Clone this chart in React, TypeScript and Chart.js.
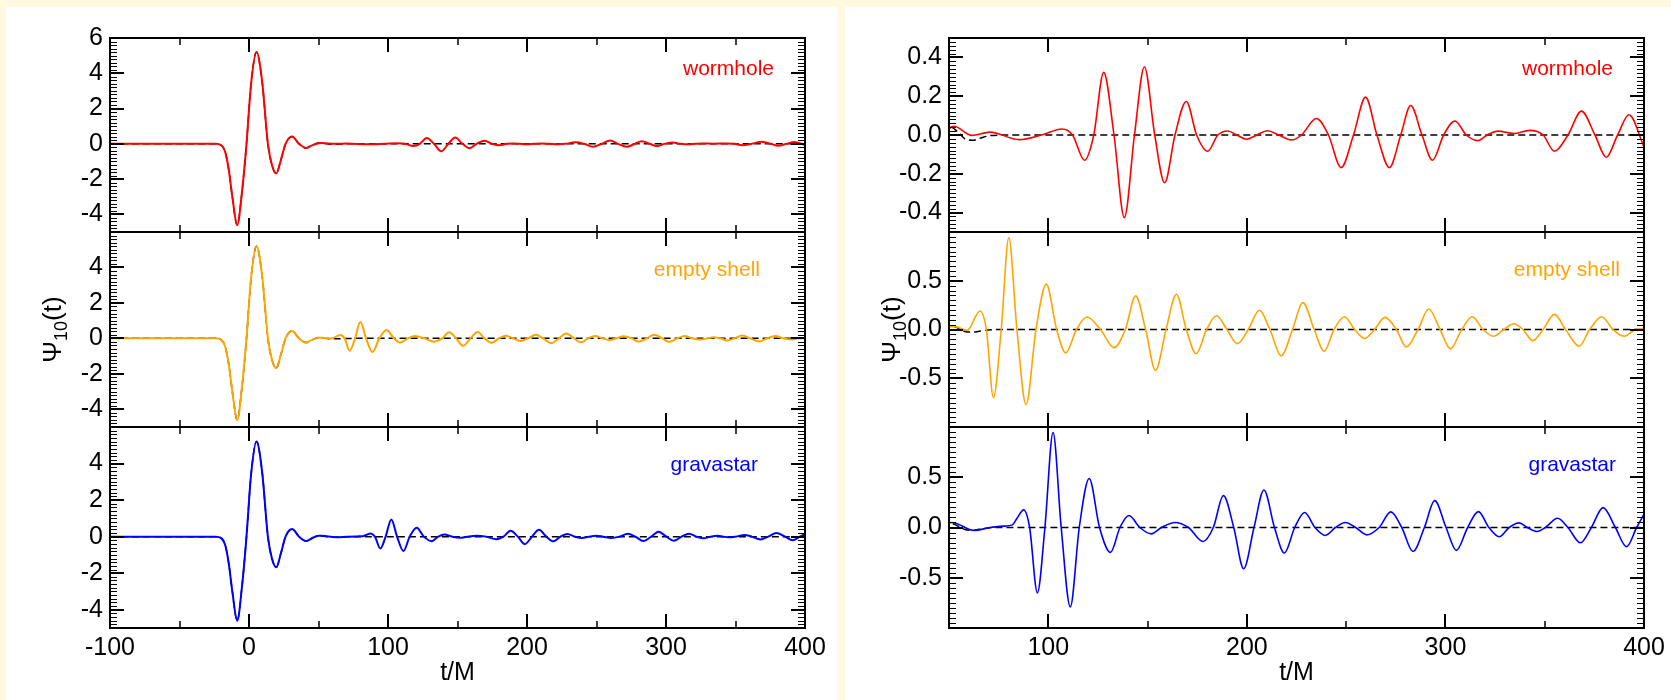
import React, { useEffect, useRef } from 'react';
import { Chart, registerables } from 'chart.js';

Chart.register(...registerables);

// ---------------- DATA (t/M, Psi_10) ----------------
// common prompt (ringdown) pulse, identical for all models and the black hole
const pulse: [number, number][] = [
  [-100, 0], [-40, 0], [-24, 0], [-20, -0.08], [-17, -0.5], [-14.5, -1.5], [-12, -3.0],
  [-8.5, -4.6], [-5, -2.7], [-1.8, 0], [1.5, 3.4], [5.4, 5.2], [9.5, 3.5], [13.6, 0],
  [16.5, -1.2], [19.6, -1.68], [23, -0.9], [26.3, 0], [31, 0.42], [36, 0], [41, -0.24], [45, -0.1],
];

// black hole tail (dashed reference)
const blackHoleTail: [number, number][] = [
  [50, 0.045], [55, 0.01], [58, -0.02], [62, -0.027], [66, -0.015], [71, -0.003], [80, 0], [400, 0],
];

const wormholeEcho: [number, number][] = [
  [50, 0.03], [52.5, 0.045], [61.5, -0.002], [70.6, 0.015], [85.4, -0.024], [96.7, 0], [107, 0.031],
  [112.2, 0], [118.3, -0.13], [122.9, 0], [127.9, 0.323], [133.1, 0], [138.3, -0.426], [143.4, 0],
  [148.4, 0.352], [153.6, 0], [158.6, -0.246], [163.8, 0], [169.5, 0.173], [174.7, 0], [180.2, -0.084],
  [185.4, 0], [190.4, 0.021], [195, 0], [199.8, -0.022], [205, 0], [210.4, 0.022], [216, 0],
  [222.5, -0.026], [227.5, 0], [235, 0.085], [241.1, 0], [247.5, -0.168], [253.7, 0], [259.8, 0.195],
  [265.5, 0], [271.8, -0.168], [277.5, 0], [282.5, 0.152], [288.2, 0], [293.5, -0.13], [299.1, 0],
  [304.8, 0.072], [310.5, 0], [316.2, -0.029], [321, 0], [326.4, 0.02], [334.4, 0.008], [342.4, 0.024],
  [349.2, 0], [354.9, -0.084], [361.7, 0], [368.5, 0.123], [375.3, 0], [381, -0.115], [386.7, 0],
  [392.4, 0.104], [400, -0.06],
];

const emptyShellEcho: [number, number][] = [
  [50, 0.03], [53, 0.03], [59.2, -0.007], [65.6, 0.19], [68.8, 0], [72.4, -0.7], [76.3, 0], [80.1, 0.94],
  [84.2, 0], [88.8, -0.77], [93.8, 0], [99, 0.465], [104.2, 0], [108.8, -0.24], [114.2, 0], [119.5, 0.128],
  [126.3, 0], [133.1, -0.186], [138.8, 0], [144, 0.345], [149, 0], [154, -0.42], [159.3, 0], [164.5, 0.362],
  [169.5, 0], [174.5, -0.248], [179.7, 0], [184.7, 0.141], [190, 0], [195.2, -0.145], [200.7, 0],
  [206.3, 0.197], [211.6, 0], [217.3, -0.269], [223, 0], [228.2, 0.276], [233.9, 0], [238.9, -0.224],
  [243.9, 0], [249.1, 0.131], [254.3, 0], [259.3, -0.093], [264.3, 0], [269.6, 0.124], [275.3, 0],
  [280.3, -0.179], [286.2, 0], [291.6, 0.21], [297.3, 0], [302.5, -0.197], [308.2, 0], [313.5, 0.131],
  [318.9, 0], [324.2, -0.069], [329.4, 0], [334.4, 0.059], [339, 0], [344, -0.114], [349.2, 0],
  [354.9, 0.155], [360.5, 0], [367.4, -0.172], [372.6, 0], [378.7, 0.131], [384.4, 0], [390.1, -0.069],
  [395.8, 0], [400, 0.01],
];

const gravastarEcho: [number, number][] = [
  [50, 0.05], [52.4, 0.048], [62.6, -0.03], [70.6, 0], [78, 0.014], [81.9, 0.026], [84.2, 0.09],
  [87.6, 0.175], [90.6, 0], [94.5, -0.65], [98.3, 0], [102.4, 0.944], [106.5, 0], [111.1, -0.79],
  [115.6, 0], [120.6, 0.488], [125.8, 0], [131.3, -0.248], [136.1, 0], [140.6, 0.119], [146.1, 0],
  [151.8, -0.063], [157, 0], [163.8, 0.05], [170.6, 0], [177.9, -0.139], [183.1, 0], [188.2, 0.317],
  [193.4, 0], [198.4, -0.41], [203.6, 0], [208.6, 0.373], [213.9, 0], [218.9, -0.254], [224.1, 0],
  [229.1, 0.149], [234.3, 0], [239.5, -0.079], [244.6, 0], [249.6, 0.05], [254.8, 0], [260.5, -0.073],
  [266.6, 0], [272.5, 0.155], [278, 0], [283.7, -0.238], [289.4, 0], [294.6, 0.267], [300.3, 0],
  [305.5, -0.228], [311.2, 0], [316.6, 0.158], [321.9, 0], [327.1, -0.092], [332.1, 0], [337.1, 0.046],
  [341.2, 0], [346.2, -0.04], [350.3, 0], [356.5, 0.092], [361.7, 0], [368, -0.152], [373.5, 0],
  [379.4, 0.198], [385.6, 0], [391.2, -0.191], [396.3, 0], [400, 0.132],
];

const modelNames = ['wormhole', 'empty shell', 'gravastar'];
const modelColors = ['#ff0000', '#ffa500', '#0000ff'];

const leftXTicks = [-100, 0, 100, 200, 300, 400];
const rightXTicks = [100, 200, 300, 400];
const leftYTicksTop = [6, 4, 2, 0, -2, -4];
const leftYTicks = [4, 2, 0, -2, -4];
const rightYTicksTop = [0.4, 0.2, 0, -0.2, -0.4];
const rightYTicks = [0.5, 0, -0.5];

// ---------------- LAYOUT / STYLE ----------------
const FONT = '"Liberation Sans", Arial, Helvetica, sans-serif';
const BG = '#fffadf';
const SUB_BOUNDS: [number, number][] = [[38, 232], [232, 427], [427, 628]];
const PAGE_H = 700;
const PAD_V = 24;

type SubCfg = {
  yMin: number; yMax: number; yTicks: number[]; yMajor: number; yMinor: number;
  nameBaseline: number; nameRight: number;
};

type PanelCfg = {
  left: number; width: number; plotLeft: number; plotRight: number;
  xMin: number; xMax: number; xTicks: number[]; xMajor: number; xMinor: number;
  lineWidth: number; fmt: (v: number) => string; subs: SubCfg[];
};

const panels: PanelCfg[] = [
  {
    left: 6, width: 831, plotLeft: 110, plotRight: 805,
    xMin: -100, xMax: 400, xTicks: leftXTicks, xMajor: 100, xMinor: 50,
    lineWidth: 2, fmt: (v) => String(v),
    subs: [
      { yMin: -5, yMax: 6, yTicks: leftYTicksTop, yMajor: 2, yMinor: 0.2, nameBaseline: 37, nameRight: 31 },
      { yMin: -5, yMax: 6, yTicks: leftYTicks, yMajor: 2, yMinor: 0.2, nameBaseline: 44, nameRight: 45 },
      { yMin: -5, yMax: 6, yTicks: leftYTicks, yMajor: 2, yMinor: 0.2, nameBaseline: 44, nameRight: 47 },
    ],
  },
  {
    left: 845, width: 826, plotLeft: 949, plotRight: 1644,
    xMin: 50, xMax: 400, xTicks: rightXTicks, xMajor: 100, xMinor: 50,
    lineWidth: 1.6, fmt: (v) => v.toFixed(1),
    subs: [
      { yMin: -0.5, yMax: 0.5, yTicks: rightYTicksTop, yMajor: 0.2, yMinor: 0.02, nameBaseline: 37, nameRight: 31 },
      { yMin: -1, yMax: 1, yTicks: rightYTicks, yMajor: 0.5, yMinor: 0.05, nameBaseline: 44, nameRight: 24 },
      { yMin: -1, yMax: 1, yTicks: rightYTicks, yMajor: 0.5, yMinor: 0.05, nameBaseline: 44, nameRight: 28 },
    ],
  },
];

const echoes = [wormholeEcho, emptyShellEcho, gravastarEcho];

function tickValues(min: number, max: number, minor: number, major: number) {
  const out: { v: number; major: boolean }[] = [];
  const i0 = Math.ceil(min / minor - 1e-9);
  const i1 = Math.floor(max / minor + 1e-9);
  for (let i = i0; i <= i1; i++) {
    const v = i * minor;
    if (Math.abs(v - min) < 1e-9 || Math.abs(v - max) < 1e-9) continue;
    const r = v / major;
    out.push({ v, major: Math.abs(r - Math.round(r)) < 1e-6 });
  }
  return out;
}

const framePlugin = {
  id: 'frameTicks',
  afterDraw(chart: any, _args: any, opts: any) {
    const { ctx, chartArea: a, scales } = chart;
    const xs = scales.x, ys = scales.y;
    ctx.save();
    ctx.strokeStyle = '#000';
    const yt = tickValues(opts.yMin, opts.yMax, opts.yMinor, opts.yMajor);
    for (const t of yt) {
      const p = Math.round(ys.getPixelForValue(t.v)) + (t.major ? 0 : 0.5);
      const len = t.major ? 14 : 7;
      ctx.lineWidth = t.major ? 2 : 1;
      ctx.beginPath();
      ctx.moveTo(a.left, p); ctx.lineTo(a.left + len, p);
      ctx.moveTo(a.right, p); ctx.lineTo(a.right - len, p);
      ctx.stroke();
    }
    const xt = tickValues(opts.xMin, opts.xMax, opts.xMinor, opts.xMajor);
    for (const t of xt) {
      const p = Math.round(xs.getPixelForValue(t.v));
      const len = t.major ? 14 : 7;
      ctx.lineWidth = t.major ? 2 : 1.5;
      ctx.beginPath();
      ctx.moveTo(p, a.top); ctx.lineTo(p, a.top + len);
      ctx.moveTo(p, a.bottom); ctx.lineTo(p, a.bottom - len);
      ctx.stroke();
    }
    ctx.lineWidth = 2;
    ctx.strokeRect(a.left, a.top, a.right - a.left, a.bottom - a.top);
    ctx.restore();
  },
};

const annotPlugin = {
  id: 'annot',
  afterDraw(chart: any, _args: any, opts: any) {
    const { ctx, chartArea: a } = chart;
    ctx.save();
    ctx.font = `21px ${FONT}`;
    ctx.fillStyle = opts.color;
    ctx.textAlign = 'right';
    ctx.textBaseline = 'alphabetic';
    ctx.fillText(opts.name, a.right - opts.nameRight, a.top + opts.nameBaseline);
    if (opts.psi) {
      ctx.translate(a.left - 57, (a.top + a.bottom) / 2);
      ctx.rotate(-Math.PI / 2);
      const big = `26px ${FONT}`;
      const small = `18px ${FONT}`;
      ctx.font = big;
      const w1 = ctx.measureText('Ψ').width;
      const w3 = ctx.measureText('(t)').width;
      ctx.font = small;
      const w2 = ctx.measureText('10').width;
      let x = -(w1 + w2 + w3) / 2;
      ctx.textAlign = 'left';
      ctx.fillStyle = '#000';
      ctx.font = big; ctx.fillText('Ψ', x, 8); x += w1;
      ctx.font = small; ctx.fillText('10', x, 14); x += w2;
      ctx.font = big; ctx.fillText('(t)', x, 8);
    }
    ctx.restore();
  },
};

function SubPlot({ panel, idx }: { panel: PanelCfg; idx: number }) {
  const ref = useRef<HTMLCanvasElement | null>(null);
  const sub = panel.subs[idx];
  const [top, bottom] = SUB_BOUNDS[idx];
  const isBottom = idx === 2;
  const canvasTop = top - PAD_V;
  const canvasH = isBottom ? PAGE_H - canvasTop : bottom - top + 2 * PAD_V;
  const xAxisH = PAGE_H - bottom;

  useEffect(() => {
    if (!ref.current) return;
    const model = [...pulse, ...echoes[idx]].map(([x, y]) => ({ x, y }));
    const bh = [...pulse, ...blackHoleTail].map(([x, y]) => ({ x, y }));
    const font = { family: FONT, size: 25 };
    const chart = new Chart(ref.current, {
      type: 'line',
      data: {
        datasets: [
          {
            data: model, borderColor: modelColors[idx], borderWidth: panel.lineWidth,
            pointRadius: 0, cubicInterpolationMode: 'monotone', fill: false,
          },
          {
            data: bh, borderColor: '#000', borderWidth: 1.5, borderDash: [7, 4],
            pointRadius: 0, cubicInterpolationMode: 'monotone', fill: false,
          },
        ],
      },
      options: {
        animation: false,
        responsive: false,
        devicePixelRatio: 1,
        events: [],
        layout: {
          padding: { left: 0, right: panel.left + panel.width - panel.plotRight, top: PAD_V, bottom: isBottom ? 0 : PAD_V },
        },
        plugins: {
          legend: { display: false },
          tooltip: { enabled: false },
          frameTicks: {
            xMin: panel.xMin, xMax: panel.xMax, xMajor: panel.xMajor, xMinor: panel.xMinor,
            yMin: sub.yMin, yMax: sub.yMax, yMajor: sub.yMajor, yMinor: sub.yMinor,
          },
          annot: {
            name: modelNames[idx], color: modelColors[idx], nameBaseline: sub.nameBaseline,
            nameRight: sub.nameRight, psi: idx === 1,
          },
        } as any,
        scales: {
          x: {
            type: 'linear', min: panel.xMin, max: panel.xMax, display: isBottom,
            afterBuildTicks: (s: any) => { s.ticks = panel.xTicks.map((v) => ({ value: v })); },
            afterFit: (s: any) => { s.height = isBottom ? xAxisH : 0; },
            ticks: { font, color: '#000', padding: 5, maxRotation: 0, autoSkip: false, callback: (v: any) => String(v) },
            grid: { display: false, drawTicks: false },
            border: { display: false },
            title: { display: true, text: 't/M', font, color: '#000', padding: { top: 0, bottom: 12 } },
          },
          y: {
            type: 'linear', min: sub.yMin, max: sub.yMax,
            afterBuildTicks: (s: any) => { s.ticks = sub.yTicks.map((v) => ({ value: v })); },
            afterFit: (s: any) => { s.width = panel.plotLeft - panel.left; },
            ticks: { font, color: '#000', padding: 7, autoSkip: false, callback: (v: any) => panel.fmt(Number(v)) },
            grid: { display: false, drawTicks: false },
            border: { display: false },
          },
        } as any,
      },
      plugins: [framePlugin, annotPlugin],
    } as any);
    return () => chart.destroy();
  }, []);

  return (
    <canvas
      ref={ref}
      width={panel.width}
      height={canvasH}
      style={{ position: 'absolute', left: panel.left, top: canvasTop, width: panel.width, height: canvasH }}
    />
  );
}

export default function App() {
  return (
    <div style={{ position: 'fixed', left: 0, top: 0, width: 1671, height: 700, background: BG, overflow: 'hidden' }}>
      <div style={{ position: 'absolute', left: 6, top: 7, width: 831, height: 693, background: '#fff' }} />
      <div style={{ position: 'absolute', left: 845, top: 7, width: 826, height: 693, background: '#fff' }} />
      {panels.map((p, pi) => [0, 1, 2].map((i) => <SubPlot key={`${pi}-${i}`} panel={p} idx={i} />))}
    </div>
  );
}
